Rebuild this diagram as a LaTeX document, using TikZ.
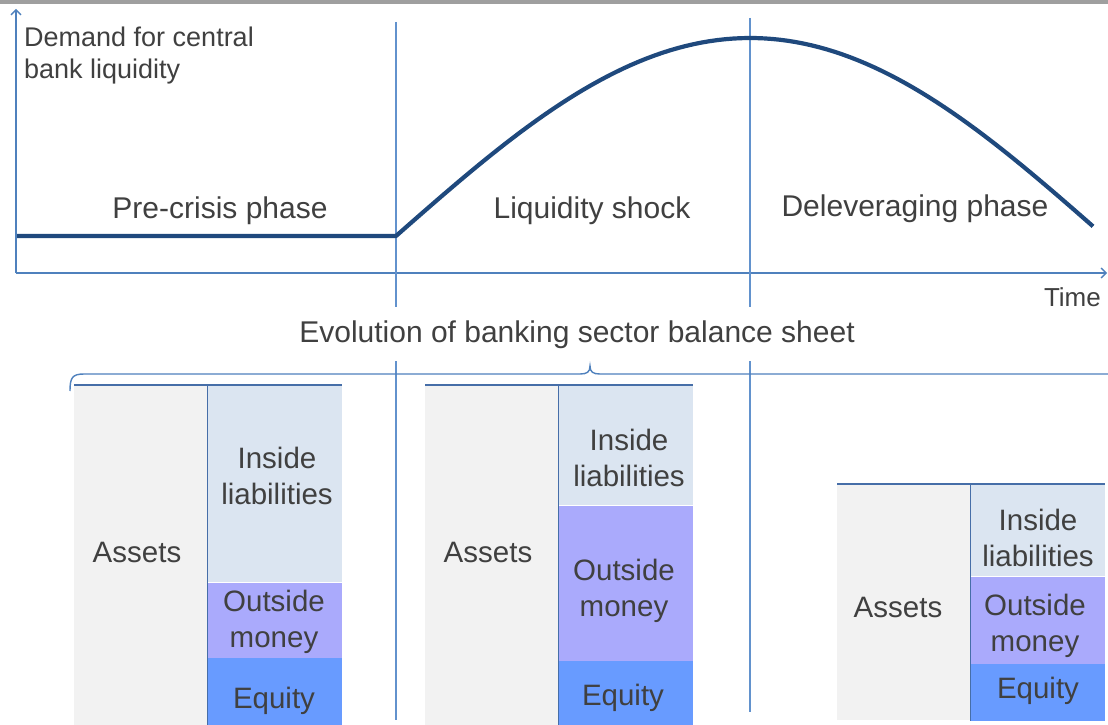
\documentclass[tikz,border=0pt]{standalone}
\usepackage{fontspec}
\setmainfont{Liberation Sans}
\usetikzlibrary{positioning,arrows.meta}

\definecolor{axisblue}{RGB}{79,129,189}
\definecolor{phaseblue}{RGB}{98,146,205}
\definecolor{curveblue}{RGB}{31,73,125}
\definecolor{sheetline}{RGB}{70,110,168}
\definecolor{txtgray}{RGB}{64,64,64}
\definecolor{assetgray}{RGB}{242,242,242}
\definecolor{insideblue}{RGB}{219,229,241}
\definecolor{outsideviolet}{RGB}{170,170,252}
\definecolor{equityblue}{RGB}{104,155,255}

\begin{document}
\begin{tikzpicture}[x=1pt, y=-1pt, node distance=0pt,
axisline/.style={draw=axisblue, line width=1.4pt, -{Straight Barb[length=5pt, width=10pt]}},
phaseline/.style={draw=phaseblue, line width=1.6pt},
demandcurve/.style={draw=curveblue, line width=4.2pt, line join=round},
sheetbrace/.style={draw=axisblue, line width=1.4pt},
assetsbox/.style={rectangle, fill=assetgray, inner sep=0pt, minimum width=133pt, anchor=north west},
liabbox/.style={rectangle, inner sep=0pt, minimum width=134pt},
sheetrule/.style={draw=sheetline, line width=1.6pt},
sheettext/.style={text=txtgray, align=center, inner sep=0pt, font=\fontsize{29.5}{36.5}\selectfont},
phasetext/.style={text=txtgray, anchor=base, inner sep=0pt, font=\fontsize{30}{36}\selectfont},
axistext/.style={text=txtgray, inner sep=0pt, align=left, font=\fontsize{27}{31.5}\selectfont},
]
\useasboundingbox (0,0) rectangle (1108,725);
\fill[white] (0,0) rectangle (1108,725);
\fill[gray!75] (0,0) rectangle (1108,4);

%Axes
\coordinate (origin) at (16,273);
\coordinate (ytop) at (16,9);
\coordinate (xend) at (1107,273);
\draw[axisline] (origin) -- (ytop);
\draw[axisline] (origin) -- (xend);

%Phase borders
\coordinate (shockTop) at (396,22);
\coordinate (shockBot) at (396,720);
\coordinate (delevTop) at (750,18);
\coordinate (delevBot) at (750,712);
\draw[phaseline] (shockTop) -- (shockBot);
\draw[phaseline] (delevTop) -- (delevBot);

%Demand curve
\coordinate (flatStart) at (17,236);
\coordinate (shockStart) at (396,236);
\draw[demandcurve] (flatStart) -- (shockStart) -- plot[domain=396:1093, samples=90] (\x, {236-198*cos((\x-750)/354*90)});

%Labels
\node[axistext, anchor=north west] (demandLabel) at (24,27) {Demand for central\\bank liquidity};
\node[text=txtgray, anchor=base east, inner sep=0pt, font=\fontsize{26}{30}\selectfont] (timeLabel) at (1101,306) {Time};
\node[phasetext] (preLabel) at (220,218) {Pre-crisis phase};
\node[phasetext] (shockLabel) at (592,218) {Liquidity shock};
\node[phasetext] (delevLabel) at (915,216) {Deleveraging phase};

%Brace
\draw[sheetbrace] (70,391) .. controls (70,378) and (72,374) .. (84,374) -- (580,374) .. controls (587,374) and (590,372) .. (590,366) .. controls (590,372) and (593,374) .. (600,374) -- (1108,374);
\node[phasetext, fill=white, inner xsep=6pt, inner ysep=13pt] (title) at (577,342) {Evolution of banking sector balance sheet};

%Balance sheet before the crisis
\node[assetsbox, minimum height=340pt] (assetsA) at (74,385) {};
\node[liabbox, fill=insideblue, minimum height=197pt, anchor=north west] (insideA) at (assetsA.north east) {};
\node[liabbox, fill=outsideviolet, minimum height=75pt, below=of insideA] (outsideA) {};
\node[liabbox, fill=equityblue, minimum height=75pt, below=of outsideA] (equityA) {};
\draw[sheetrule] (assetsA.north west) -- (insideA.north east);
\draw[sheetrule] (insideA.north west) -- (equityA.south west);
\node[sheettext] (lblAssetsA) at (137,552) {Assets};
\node[sheettext] (lblInsideA) at (277,476) {Inside\\liabilities};
\node[sheettext] (lblOutsideA) at (274,622) {Outside\\money};
\node[sheettext] (lblEquityA) at (274,701) {Equity};

%Balance sheet in the shock
\node[assetsbox, minimum height=340pt] (assetsB) at (425,385) {};
\node[liabbox, fill=insideblue, minimum height=120pt, anchor=north west] (insideB) at (assetsB.north east) {};
\node[liabbox, fill=outsideviolet, minimum height=155pt, below=of insideB] (outsideB) {};
\node[liabbox, fill=equityblue, minimum height=75pt, below=of outsideB] (equityB) {};
\draw[sheetrule] (assetsB.north west) -- (insideB.north east);
\draw[sheetrule] (insideB.north west) -- (equityB.south west);
\node[sheettext] (lblAssetsB) at (488,552) {Assets};
\node[sheettext] (lblInsideB) at (629,458) {Inside\\liabilities};
\node[sheettext] (lblOutsideB) at (624,591) {Outside\\money};
\node[sheettext] (lblEquityB) at (623,698) {Equity};

%Balance sheet after deleveraging
\node[assetsbox, minimum height=236pt] (assetsC) at (837,484) {};
\node[liabbox, fill=insideblue, minimum height=92pt, anchor=north west] (insideC) at (assetsC.north east) {};
\node[liabbox, fill=outsideviolet, minimum height=87pt, below=of insideC] (outsideC) {};
\node[liabbox, fill=equityblue, minimum height=57pt, below=of outsideC] (equityC) {};
\draw[sheetrule] (assetsC.north west) -- (insideC.north east);
\draw[sheetrule] (insideC.north west) -- (equityC.south west);
\node[sheettext] (lblAssetsC) at (898,607) {Assets};
\node[sheettext] (lblInsideC) at (1038,538) {Inside\\liabilities};
\node[sheettext] (lblOutsideC) at (1035,626) {Outside\\money};
\node[sheettext] (lblEquityC) at (1038,691) {Equity};

\end{tikzpicture}
\end{document}
